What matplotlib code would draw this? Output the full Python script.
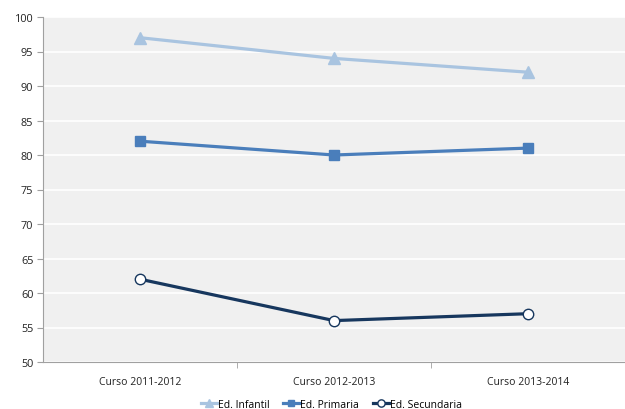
import matplotlib
matplotlib.use("Agg")
import matplotlib.pyplot as plt
from matplotlib.ticker import MultipleLocator

plt.rcParams['font.family'] = ['Open Sans', 'DejaVu Sans']

categories = ["Curso 2011-2012", "Curso 2012-2013", "Curso 2013-2014"]
infantil = [97, 94, 92]
primaria = [82, 80, 81]
secundaria = [62, 56, 57]

fig = plt.figure(figsize=(6.25, 4.10), dpi=100)
ax = fig.add_axes([43/625, 1-363/410, 1-43/625, (363-18)/410])
ax.set_facecolor('#f0f0f0')

x = list(range(len(categories)))
ax.plot(x, infantil, color='#a9c4e0', lw=2.3, marker='^', ms=8, label='Ed. Infantil', zorder=3)
ax.plot(x, primaria, color='#4a7ebb', lw=2.3, marker='s', ms=7, label='Ed. Primaria', zorder=3)
ax.plot(x, secundaria, color='#17375e', lw=2.3, marker='o', ms=7.5, mfc='white',
        mec='#17375e', mew=1, label='Ed. Secundaria', zorder=3)

ax.set_xlim(-0.5, len(categories) - 0.5)
ax.set_ylim(50, 100)
ax.yaxis.set_major_locator(MultipleLocator(5))
ax.grid(axis='y', color='white', lw=1.2)
ax.set_axisbelow(True)

ax.set_xticks(x)
ax.set_xticklabels(categories, fontsize=7.5, color='#222222')
ax.set_xticks([0.5, 1.5], minor=True)
ax.tick_params(axis='x', which='major', length=0, pad=10)
ax.tick_params(axis='x', which='minor', length=4, color='#a0a0a0')
ax.tick_params(axis='y', length=4, color='#a0a0a0', labelsize=7.8, labelcolor='#222222', pad=3)

for s in ['top', 'right']:
    ax.spines[s].set_visible(False)
for s in ['left', 'bottom']:
    ax.spines[s].set_color('#a0a0a0')

leg = fig.legend(loc='lower center', bbox_to_anchor=(0.53, -0.025), ncol=3, frameon=False,
                 fontsize=7.5, handlelength=1.6, handletextpad=0.05, columnspacing=1.3,
                 markerscale=0.7)

fig.savefig('out.png', dpi=100)
